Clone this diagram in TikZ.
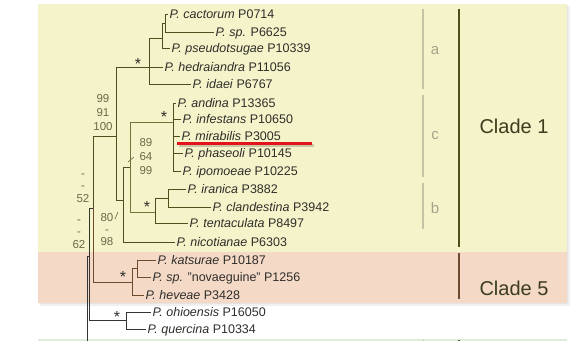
\documentclass[tikz,border=0pt]{standalone}
\usepackage{fontspec}
\setmainfont{Liberation Sans}
\usepackage{xcolor}
\usetikzlibrary{positioning}

\definecolor{bandyellow}{HTML}{F5F3CA}
\definecolor{bandpink}{HTML}{F4D9C7}
\definecolor{bandgreen}{HTML}{DDEFD9}
\definecolor{treeolive}{HTML}{4F4F1C}
\definecolor{treekhaki}{HTML}{74743A}
\definecolor{treebrown}{HTML}{6E4A2E}
\definecolor{treegray}{HTML}{353535}
\definecolor{leaftext}{HTML}{2E2E2A}
\definecolor{supptext}{HTML}{6A6A48}
\definecolor{subgray}{HTML}{C3C3A6}
\definecolor{subtext}{HTML}{A4A48C}
\definecolor{cladetext}{HTML}{3C3C1E}
\definecolor{markred}{HTML}{E3121B}

\newcommand{\leaffont}{\fontsize{12.5}{14}\selectfont}
\newcommand{\suppfont}{\fontsize{11.5}{14}\selectfont}
\newcommand{\starfont}{\fontsize{16}{16}\selectfont}
\newcommand{\subfont}{\fontsize{15}{16}\selectfont}
\newcommand{\cladefont}{\fontsize{20}{22}\selectfont}

\begin{document}
\begin{tikzpicture}[
		x=1pt, y=-1pt,
		branch/.style={line width=0.9pt, draw=treeolive},
		leaf/.style={anchor=west, inner xsep=1.5pt, inner ysep=0pt, text height=9pt, text depth=0pt, font=\leaffont, text=leaftext},
		supp/.style={align=center, inner sep=0pt, font=\suppfont, text=supptext},
		star/.style={anchor=base, inner sep=0pt, font=\starfont, text=leaftext},
		tick/.style={line width=0.6pt, draw=supptext},
		subbar/.style={line width=1.2pt, draw=subgray},
		cladebar/.style={line width=1.3pt},
		sublabel/.style={font=\subfont, text=subtext},
		cladelabel/.style={anchor=west, font=\cladefont, text=cladetext}
		]
		
		\useasboundingbox (0,0) rectangle (573,341);
		
		% Bands behind the clades (with a soft shadow)
		\fill[black, opacity=0.06] (40,6) rectangle (570,306);
		\fill[black, opacity=0.05] (39,5) rectangle (568,304);
		\fill[bandyellow] (38,4) rectangle (567,252);
		\fill[bandpink]   (38,252) rectangle (567,303);
		\fill[bandgreen]  (38,339) rectangle (567,341);
		
		% Leaves, clade 1
		\node[leaf] (cac)  at (168,14)  {\textit{P. cactorum} P0714};
		\node[leaf] (spp)  at (214,32)  {\textit{P. sp.} P6625};
		\node[leaf] (pse)  at (170,48)  {\textit{P. pseudotsugae} P10339};
		\node[leaf] (hed)  at (163,67)  {\textit{P. hedraiandra} P11056};
		\node[leaf] (ida)  at (191,84)  {\textit{P. idaei} P6767};
		\node[leaf] (andi) at (176,103) {\textit{P. andina} P13365};
		\node[leaf] (inf)  at (181,119) {\textit{P. infestans} P10650};
		\node[leaf] (mir)  at (180,136) {\textit{P. mirabilis} P3005};
		\node[leaf] (pha)  at (183,153) {\textit{P. phaseoli} P10145};
		\node[leaf] (ipo)  at (181,171) {\textit{P. ipomoeae} P10225};
		\node[leaf] (ira)  at (186,189) {\textit{P. iranica} P3882};
		\node[leaf] (cla)  at (211,207) {\textit{P. clandestina} P3942};
		\node[leaf] (ten)  at (188,223) {\textit{P. tentaculata} P8497};
		\node[leaf] (nic)  at (175,242) {\textit{P. nicotianae} P6303};
		
		% Leaves, clade 5 and outside
		\node[leaf] (kat)  at (156,260) {\textit{P. katsurae} P10187};
		\node[leaf] (nov)  at (151,277) {\textit{P. sp.} "novaeguine" P1256};
		\node[leaf] (hev)  at (144,295) {\textit{P. heveae} P3428};
		\node[leaf] (ohi)  at (151,312) {\textit{P. ohioensis} P16050};
		\node[leaf] (que)  at (146,329) {\textit{P. quercina} P10334};
		
		% Inner nodes
		\coordinate (n1)   at (165,23);
		\coordinate (n2)   at (162,38);
		\coordinate (nA)   at (149,67);
		\coordinate (nC)   at (173,122);
		\coordinate (n3)   at (168,198);
		\coordinate (nB)   at (155,212);
		\coordinate (nCB)  at (130,167);
		\coordinate (nCBN) at (123,200);
		\coordinate (nOne) at (116,136);
		\coordinate (n5)   at (137,268);
		\coordinate (nFive) at (132,282);
		\coordinate (nOF)  at (93,208);
		\coordinate (n6)   at (126,320);
		\coordinate (nR)   at (89,256);
		\coordinate (base) at (87,341);
		
		% Clade a
		\draw[branch] (n1) |- (cac.west);
		\draw[branch] (n1) |- (spp.west);
		\draw[branch] (n2) |- (n1);
		\draw[branch] (n2) |- (pse.west);
		\draw[branch] (nA) |- (n2);
		\draw[branch] (nA) |- (hed.west);
		\draw[branch] (nA) |- (ida.west);
		
		% Clade c
		\foreach \lf in {andi,inf,mir,pha,ipo}
		\draw[branch] (nC) |- (\lf.west);
		
		% Clade b
		\draw[branch] (n3) |- (ira.west);
		\draw[branch] (n3) |- (cla.west);
		\draw[branch] (nB) |- (n3);
		\draw[branch] (nB) |- (ten.west);
		
		% Backbone of clade 1
		\draw[branch, draw=treekhaki] (nCB) |- (nC);
		\draw[branch, draw=treekhaki] (nCB) |- (nB);
		\draw[branch] (nCBN) |- (nCB);
		\draw[branch] (nCBN) |- (nic.west);
		\draw[branch] (nOne) |- (nA);
		\draw[branch] (nOne) |- (nCBN);
		
		% Clade 5
		\draw[branch, draw=treebrown] (n5) |- (kat.west);
		\draw[branch, draw=treebrown] (n5) |- (nov.west);
		\draw[branch, draw=treebrown] (nFive) |- (n5);
		\draw[branch, draw=treebrown] (nFive) |- (hev.west);
		
		% Root part
		\draw[branch] (nOF) |- (nOne);
		\draw[branch, draw=treebrown] (nOF) |- (nFive);
		\draw[branch, draw=treegray] (n6) |- (ohi.west);
		\draw[branch, draw=treegray] (n6) |- (que.west);
		\draw[branch, draw=treegray] (nR) |- (nOF);
		\draw[branch, draw=treegray] (nR) |- (n6);
		\draw[branch, draw=treegray] (base) |- (nR);
		
		% Support values
		\node[star] (sA)    at (138,69)  {*};
		\node[star] (sC)    at (164,122) {*};
		\node[star] (sB)    at (147,212) {*};
		\node[star] (sFive) at (123,282) {*};
		\node[star] (sSix)  at (117,322) {*};
		\node[supp] (bOne) at (103,113) {99\\91\\100};
		\node[supp] (bCB)  at (146,157) {89\\64\\99};
		\node[supp, font=\fontsize{11.5}{12}\selectfont] (bCBN) at (107,230) {80\\-\\98};
		\node[supp, font=\fontsize{11.5}{12.5}\selectfont] (bOF) at (83,188) {-\\-\\52};
		\node[supp, font=\fontsize{11.5}{12.5}\selectfont] (bR)  at (79,234) {-\\-\\62};
		\draw[tick] (128,162) -- (134,157);
		\draw[tick] (115,219) -- (118,212);
		
		% Red mark under P. mirabilis
		\draw[line width=3pt, black, opacity=0.18] (179,145.5) -- (314,145.5);
		\draw[line width=3pt, markred] (177,143) -- (312,143);
		
		% Subgroup bars
		\draw[subbar] (423,9) -- (423,89);
		\draw[subbar] (423,95) -- (423,177);
		\draw[subbar] (423,183) -- (423,229);
		\draw[subbar, line width=0.8pt] (423,340) -- (423,341);
		\node[sublabel] (labA) at (435,51)  {a};
		\node[sublabel] (labC) at (435,136) {c};
		\node[sublabel] (labB) at (435,208) {b};
		
		% Clade bars
		\draw[cladebar, treeolive] (459,9) -- (459,247);
		\draw[cladebar, treebrown] (459,253) -- (459,299);
		\draw[cladebar, treeolive] (459,340) -- (459,341);
		\node[cladelabel] (cOne)  at (476,126) {Clade 1};
		\node[cladelabel] (cFive) at (476,288) {Clade 5};
		
	\end{tikzpicture}
\end{document}
